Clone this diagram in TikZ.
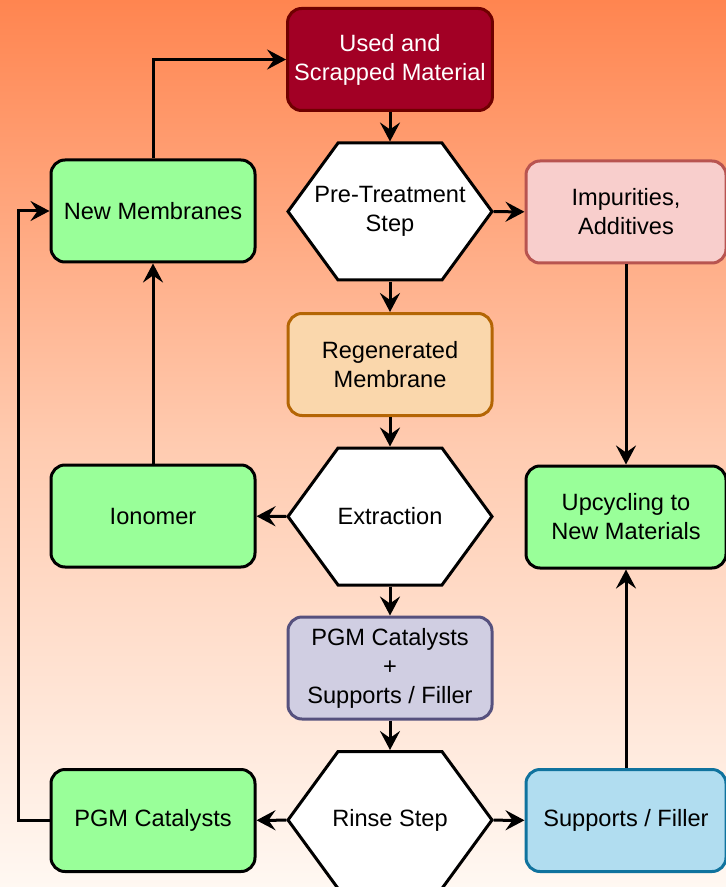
\documentclass[tikz,border=0pt]{standalone}
\usepackage{fontspec}
\setmainfont{Liberation Sans}
\usetikzlibrary{arrows.meta, shapes.symbols}

\definecolor{bgtop}{RGB}{255,133,80}
\definecolor{bgmid}{RGB}{255,203,176}
\definecolor{bgbottom}{RGB}{255,248,242}
\definecolor{boxgreen}{HTML}{99FF99}
\definecolor{usedfill}{HTML}{A20025}
\definecolor{usedline}{HTML}{6F0000}
\definecolor{impfill}{HTML}{F8CECC}
\definecolor{impline}{HTML}{B85450}
\definecolor{regfill}{HTML}{FAD7AC}
\definecolor{regline}{HTML}{B46504}
\definecolor{pgmfill}{HTML}{D0CEE2}
\definecolor{pgmline}{HTML}{56517E}
\definecolor{supfill}{HTML}{B1DDF0}
\definecolor{supline}{HTML}{10739E}

\tikzset{
  txt/.style={font=\fontsize{11.8}{14.5}\selectfont, align=center},
  box/.style={txt, rectangle, rounded corners=7pt, draw, line width=1.5pt,
    minimum width=102pt, minimum height=51pt},
  greenbox/.style={box, fill=boxgreen},
  sidebox/.style={box, minimum width=100pt},
  hexstep/.style={signal, signal to=east and west, signal pointer angle=107.7,
    draw, line width=1.5pt, fill=white, minimum width=102pt, minimum height=68.5pt,
    inner sep=0pt, label={[txt]center:#1}},
  flow/.style={line width=1.5pt, -{Stealth[length=9.5pt,width=10pt,inset=3.5pt]}},
}

\begin{document}
\begin{tikzpicture}[x=0.5pt,y=-0.5pt]
  % background
  \shade[top color=bgtop, bottom color=bgbottom, middle color=bgmid] (0,0) rectangle (726,887);
  \useasboundingbox (0,0) rectangle (726,887);

  % middle column
  \node[box, fill=usedfill, draw=usedline, text=white] (used) at (390,59.5) {Used and\\Scrapped Material};
  \node[hexstep={Pre-Treatment\\Step}] (pretreat) at (390,211.5) {};
  \node[box, fill=regfill, draw=regline] (regen) at (390,364.5) {Regenerated\\Membrane};
  \node[hexstep={Extraction}] (extract) at (390,516.5) {};
  \node[box, fill=pgmfill, draw=pgmline] (pgmsup) at (390,668) {PGM Catalysts\\+\\Supports / Filler};
  \node[hexstep={Rinse Step}] (rinse) at (390,820) {};

  % left column
  \node[greenbox] (newmem) at (153,211) {New Membranes};
  \node[greenbox] (ionomer) at (153,516) {Ionomer};
  \node[greenbox] (pgmcat) at (153,820.5) {PGM Catalysts};

  % right column
  \node[sidebox, fill=impfill, draw=impline] (impur) at (626,212) {Impurities,\\Additives};
  \node[sidebox, fill=boxgreen] (upcycle) at (626,517) {Upcycling to\\New Materials};
  \node[sidebox, fill=supfill, draw=supline] (support) at (626,820.5) {Supports / Filler};

  \coordinate (loopL) at (18,820.5);

  % connectors
  \draw[flow] (used) -- (pretreat);
  \draw[flow] (pretreat) -- (regen);
  \draw[flow] (pretreat) -- (impur);
  \draw[flow] (regen) -- (extract);
  \draw[flow] (extract) -- (ionomer);
  \draw[flow] (extract) -- (pgmsup);
  \draw[flow] (pgmsup) -- (rinse);
  \draw[flow] (rinse) -- (pgmcat);
  \draw[flow] (rinse) -- (support);
  \draw[flow] (impur) -- (upcycle);
  \draw[flow] (support) -- (upcycle);
  \draw[flow] (ionomer) -- (newmem);
  \draw[flow] (newmem.north) |- (used.west);
  \draw[flow] (pgmcat.west) -- (loopL) |- (newmem.west);
\end{tikzpicture}
\end{document}
